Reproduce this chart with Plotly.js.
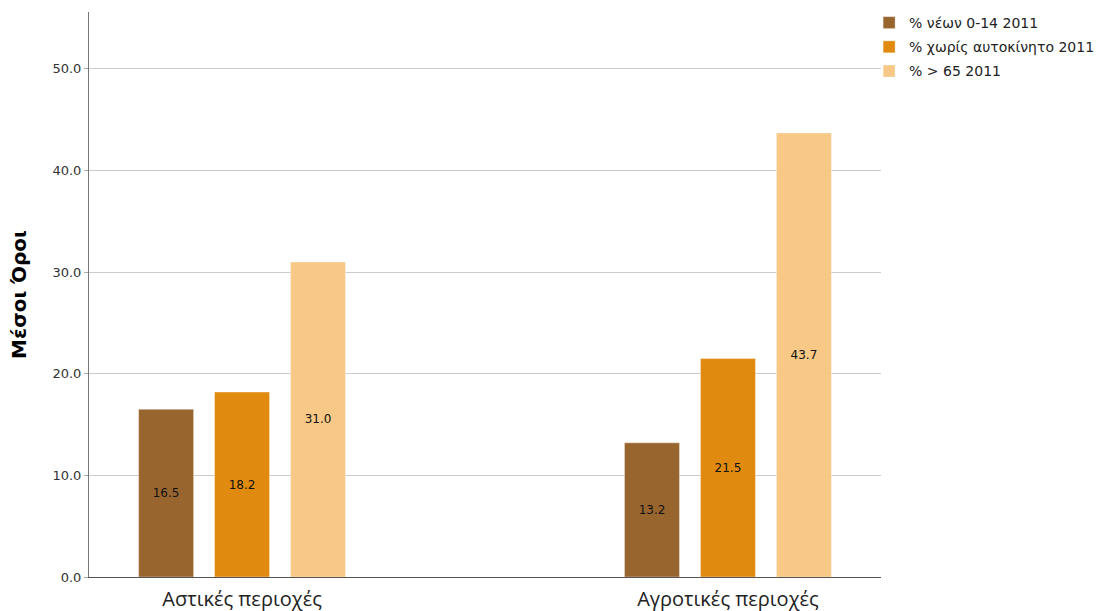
<!DOCTYPE html>
<html>
<head>
<meta charset="utf-8">
<script src="https://cdn.plot.ly/plotly-3.0.1.min.js"></script>
<style>html,body{margin:0;padding:0;background:#fff}#chart{width:1111px;height:611px}</style>
</head>
<body>
<div id="chart"></div>
<script>
const categories = ["Αστικές περιοχές", "Αγροτικές περιοχές"];
const seriesNames = ["% νέων 0-14 2011", "% χωρίς αυτοκίνητο 2011", "% > 65 2011"];
const youth = [16.5, 13.2];
const noCar = [18.2, 21.5];
const over65 = [31.0, 43.7];
const yTickVals = [0, 10, 20, 30, 40, 50];
const yTickText = ["0.0", "10.0", "20.0", "30.0", "40.0", "50.0"];

const colors = ["#99652f", "#e08a0f", "#f7c886"];
const seriesValues = [youth, noCar, over65];

const traces = seriesValues.map((vals, i) => ({
  type: "bar",
  name: seriesNames[i],
  legendgroup: "g" + i,
  x: categories,
  y: vals,
  text: vals.map(v => v.toFixed(1)),
  textposition: "inside",
  insidetextanchor: "middle",
  textangle: 0,
  textfont: {family: "DejaVu Sans, sans-serif", size: 12, color: "#111"},
  marker: {color: colors[i], line: {width: 1, color: "rgba(255,255,255,0.35)"}},
  hoverinfo: "none"
}));

const layout = {
  width: 1111, height: 611,
  margin: {l: 89, r: 230, t: 12, b: 34, autoexpand: false},
  paper_bgcolor: "#fff", plot_bgcolor: "#fff",
  barmode: "group",
  bargap: 0.531,
  bargroupgap: 0.276,
  showlegend: true,
  legend: {x: 0.985, xanchor: "left", yref: "container", y: 0.9885, yanchor: "top",
    font: {family: "DejaVu Sans, sans-serif", size: 14, color: "#222"},
    tracegroupgap: 3, bgcolor: "rgba(0,0,0,0)"},
  xaxis: {
    type: "category",
    range: [-0.315, 1.315],
    showgrid: false, zeroline: false,
    showline: true, linecolor: "#555", linewidth: 1,
    ticks: "", ticklabelstandoff: 4,
    tickfont: {family: "Open Sans, sans-serif", size: 20, color: "#222"}
  },
  yaxis: {
    range: [0, 55.6],
    tickvals: yTickVals, ticktext: yTickText,
    showgrid: true, gridcolor: "#cccccc", gridwidth: 1,
    zeroline: false,
    showline: true, linecolor: "#777", linewidth: 1,
    ticks: "outside", ticklen: 4, tickcolor: "#aaa",
    tickfont: {family: "DejaVu Sans, sans-serif", size: 13, color: "#333"},
    title: {text: "Μέσοι Όροι", font: {family: "DejaVu Sans, sans-serif", size: 20, color: "#000", weight: "bold"}, standoff: 20}
  }
};

Plotly.newPlot("chart", traces, layout, {displayModeBar: false, staticPlot: true});
</script>
</body>
</html>
